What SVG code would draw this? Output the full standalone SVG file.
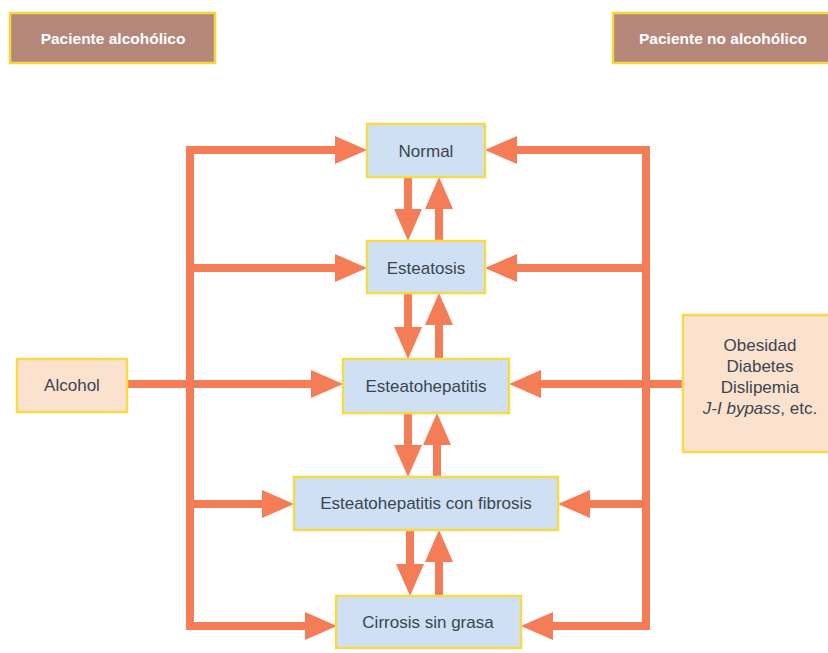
<svg xmlns="http://www.w3.org/2000/svg" width="828" height="653" viewBox="0 0 828 653">
<style>
.hdr{fill:#b4877a;stroke:#f6d63c;stroke-width:2.5}
.hdrt{fill:#ffffff;font-family:"Liberation Sans",Arial,sans-serif;font-weight:bold;font-size:15.5px;text-anchor:middle}
.st{fill:#cfe0f4;stroke:#f6da4a;stroke-width:2.5}
.src{fill:#fbe2cf;stroke:#f6da4a;stroke-width:2.5}
.t{fill:#3b4650;font-family:"Liberation Sans",Arial,sans-serif;font-size:17px;text-anchor:middle;dominant-baseline:central}
.ln{fill:none;stroke:#f47c57;stroke-width:8;stroke-linejoin:miter}
</style>
<defs>
<marker id="ah" markerUnits="userSpaceOnUse" markerWidth="32" markerHeight="28" refX="1" refY="14" orient="auto">
<path d="M0,0 L32,14 L0,28 Z" fill="#f47c57"/>
</marker>
</defs>
<rect width="828" height="653" fill="#ffffff"/>
<g id="hdr-alc"><rect class="hdr" x="10" y="13" width="205" height="50"/><text class="hdrt" x="113" y="44">Paciente alcohólico</text></g>
<g id="hdr-noalc"><rect class="hdr" x="613" y="13" width="222" height="50"/><text class="hdrt" x="723" y="44">Paciente no alcohólico</text></g>
<g id="connectors">
<path class="ln" d="M336,150 H190 V626 H306" marker-end="url(#ah)"/>
<path class="ln" d="M516,150 H646 V626 H552" marker-end="url(#ah)"/>
<path class="ln" d="M190,150 H336" marker-end="url(#ah)"/>
<path class="ln" d="M190,268 H336" marker-end="url(#ah)"/>
<path class="ln" d="M122,384 H312" marker-end="url(#ah)"/>
<path class="ln" d="M190,504 H263" marker-end="url(#ah)"/>
<path class="ln" d="M646,150 H516" marker-end="url(#ah)"/>
<path class="ln" d="M646,268 H516" marker-end="url(#ah)"/>
<path class="ln" d="M686,384 H540" marker-end="url(#ah)"/>
<path class="ln" d="M646,504 H589" marker-end="url(#ah)"/>
<path class="ln" d="M408,177 V210" marker-end="url(#ah)"/>
<path class="ln" d="M439,241 V208" marker-end="url(#ah)"/>
<path class="ln" d="M408,293 V328" marker-end="url(#ah)"/>
<path class="ln" d="M439,359 V324" marker-end="url(#ah)"/>
<path class="ln" d="M408,413 V446" marker-end="url(#ah)"/>
<path class="ln" d="M437,477 V444" marker-end="url(#ah)"/>
<path class="ln" d="M410,530 V565" marker-end="url(#ah)"/>
<path class="ln" d="M439,596 V561" marker-end="url(#ah)"/>
</g>
<g id="normal"><rect class="st" x="367" y="124" width="118" height="53"/><text class="t" x="426" y="151">Normal</text></g>
<g id="esteatosis"><rect class="st" x="367" y="241" width="118" height="52"/><text class="t" x="426" y="268">Esteatosis</text></g>
<g id="esteatohepatitis"><rect class="st" x="343" y="359" width="166" height="54"/><text class="t" x="426" y="386">Esteatohepatitis</text></g>
<g id="fibrosis"><rect class="st" x="294" y="477" width="264" height="53"/><text class="t" x="426" y="503">Esteatohepatitis con fibrosis</text></g>
<g id="cirrosis"><rect class="st" x="336" y="596" width="185" height="52"/><text class="t" x="428" y="622">Cirrosis sin grasa</text></g>
<g id="alcohol"><rect class="src" x="17" y="359" width="110" height="53"/><text class="t" x="72" y="385">Alcohol</text></g>
<g id="obesidad"><rect class="src" x="683" y="315" width="150" height="137"/>
<text class="t" x="760" y="345">Obesidad</text>
<text class="t" x="760" y="366">Diabetes</text>
<text class="t" x="760" y="387">Dislipemia</text>
<text class="t" x="760" y="408"><tspan font-style="italic">J-I bypass</tspan>, etc.</text>
</g>
</svg>
